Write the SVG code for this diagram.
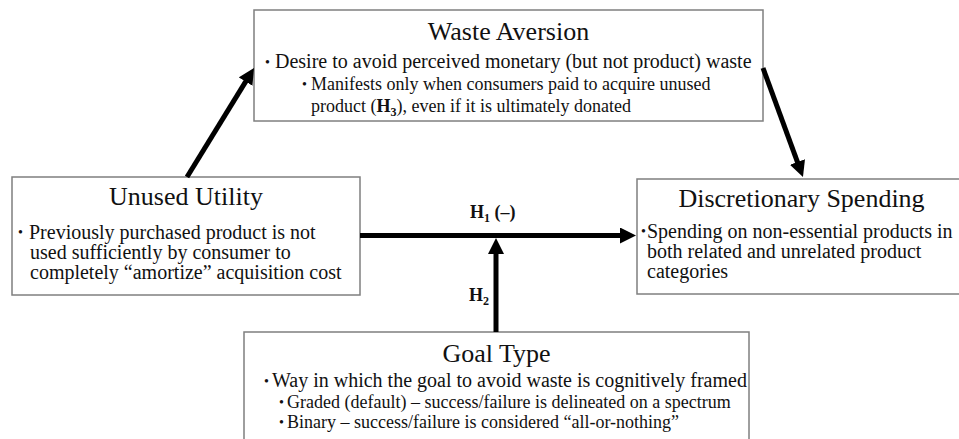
<svg xmlns="http://www.w3.org/2000/svg" width="959" height="439" viewBox="0 0 959 439">
<style>
text{font-family:'Liberation Serif',serif;fill:#111}
.box{fill:#fff;stroke:#7f7f7f;stroke-width:1.5}
.title{font-size:26px;text-anchor:middle}
.b{font-size:20px}
.s{font-size:18px}
.bul{font-size:14px}
.lbl{font-size:18px;font-weight:bold}
.arr{stroke:#000;stroke-width:5;fill:none;marker-end:url(#ah)}
</style>
<defs>
<marker id="ah" markerUnits="userSpaceOnUse" markerWidth="17" markerHeight="17" refX="3" refY="8" orient="auto">
<path d="M0,0 L16,8 L0,16 z" fill="#000"/>
</marker>
</defs>
<rect width="959" height="439" fill="#fff"/>
<g id="waste-aversion">
<rect class="box" x="254" y="10" width="509" height="111"/>
<text class="title" x="508.5" y="40">Waste Aversion</text>
<text class="bul" x="265" y="67">•</text>
<text class="b" x="275" y="68">Desire to avoid perceived monetary (but not product) waste</text>
<text class="bul" x="302" y="89">•</text>
<text class="s" x="311" y="90">Manifests only when consumers paid to acquire unused</text>
<text class="s" x="311" y="112">product (<tspan font-weight="bold">H<tspan font-size="12" dy="4">3</tspan></tspan><tspan dy="-4">), even if it is ultimately donated</tspan></text>
</g>
<g id="unused-utility">
<rect class="box" x="12" y="177" width="348" height="118"/>
<text class="title" x="186" y="205">Unused Utility</text>
<text class="bul" x="18" y="237">•</text>
<text class="b" x="29" y="239">Previously purchased product is not</text>
<text class="b" x="30" y="259">used sufficiently by consumer to</text>
<text class="b" x="30" y="279">completely “amortize” acquisition cost</text>
</g>
<g id="discretionary-spending">
<rect class="box" x="637" y="179" width="330" height="115"/>
<text class="title" x="801.5" y="207">Discretionary Spending</text>
<text class="bul" x="641" y="236">•</text>
<text class="b" x="647" y="238">Spending on non-essential products in</text>
<text class="b" x="647" y="258">both related and unrelated product</text>
<text class="b" x="647" y="278">categories</text>
</g>
<g id="goal-type">
<rect class="box" x="244" y="332" width="505" height="120"/>
<text class="title" x="496.5" y="362">Goal Type</text>
<text class="bul" x="264" y="386">•</text>
<text class="b" x="272" y="387">Way in which the goal to avoid waste is cognitively framed</text>
<text class="bul" x="279" y="407">•</text>
<text class="s" x="287" y="408">Graded (default) – success/failure is delineated on a spectrum</text>
<text class="bul" x="279" y="427">•</text>
<text class="s" x="287" y="428">Binary – success/failure is considered “all-or-nothing”</text>
</g>
<g id="connectors">
<line class="arr" x1="187" y1="177" x2="247.2" y2="79.1"/>
<line class="arr" x1="763" y1="68" x2="798.5" y2="164.8"/>
<line class="arr" x1="360" y1="235.5" x2="623" y2="235.5"/>
<line class="arr" x1="496" y1="332" x2="496" y2="251"/>
<text class="lbl" x="470" y="218">H<tspan font-size="12" dy="4">1</tspan><tspan dy="-4"> (–)</tspan></text>
<text class="lbl" x="469" y="301">H<tspan font-size="12" dy="4">2</tspan></text>
</g>
</svg>
